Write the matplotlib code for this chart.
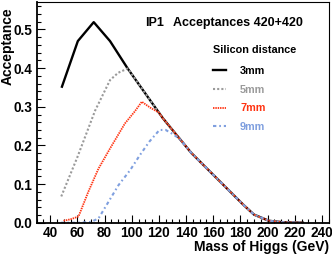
import matplotlib
matplotlib.use('Agg')
import matplotlib.pyplot as plt
from matplotlib.ticker import MultipleLocator, FormatStrFormatter

plt.rcParams['font.family'] = ['Liberation Sans', 'DejaVu Sans']
plt.rcParams['font.weight'] = 'bold'

# acceptance vs Higgs mass for the four silicon distances
mass_3mm = [48.6, 60.3, 72.0, 84.0, 97.0, 113.5, 123.0, 133.0, 144.0, 162.0,
            182.0, 190.0, 201.0, 212.0, 226.0]
acc_3mm = [0.352, 0.470, 0.519, 0.470, 0.399, 0.317, 0.270, 0.227, 0.180,
           0.117, 0.047, 0.021, 0.005, 0.001, 0.000]

mass_5mm = [48.1, 60.0, 73.0, 84.0, 90.0, 97.0, 113.5, 123.0, 133.0, 144.0,
            162.0, 182.0, 190.0, 201.0, 212.0, 226.0]
acc_5mm = [0.068, 0.170, 0.290, 0.369, 0.388, 0.399, 0.317, 0.270, 0.227,
           0.180, 0.117, 0.047, 0.021, 0.005, 0.001, 0.000]

mass_7mm = [49.8, 55.0, 60.8, 68.0, 75.5, 84.0, 95.0, 102.0, 107.4, 113.5,
            120.0, 123.0, 133.0, 144.0, 162.0, 182.0, 190.0, 201.0, 212.0,
            226.0]
acc_7mm = [0.005, 0.009, 0.016, 0.080, 0.140, 0.192, 0.257, 0.287, 0.313,
           0.298, 0.285, 0.270, 0.227, 0.180, 0.117, 0.047, 0.021, 0.005,
           0.001, 0.000]

mass_9mm = [48.0, 60.0, 70.0, 75.5, 90.2, 98.8, 106.0, 113.0, 120.4, 125.0,
            129.4, 135.0, 144.0, 162.0, 182.0, 190.0, 201.0, 212.0, 226.0]
acc_9mm = [0.000, 0.000, 0.002, 0.011, 0.097, 0.136, 0.175, 0.210, 0.240,
           0.240, 0.231, 0.218, 0.180, 0.117, 0.047, 0.021, 0.005, 0.001,
           0.000]

labels = ['3mm', '5mm', '7mm', '9mm']
colors = ['black', '#9a9a9a', '#ff3311', '#7f9fdf']
styles = ['-', (0, (1, 1.0)), (0, (0.8, 0.5)), (0, (1.6, 1.4, 0.8, 1.4))]
widths = [1.7, 1.5, 1.3, 1.5]

fig = plt.figure(figsize=(3.32, 2.56), dpi=100)
ax = fig.add_axes([0.1105, 0.130, 0.8795, 0.862])

series = [(mass_3mm, acc_3mm), (mass_5mm, acc_5mm),
          (mass_7mm, acc_7mm), (mass_9mm, acc_9mm)]
for (m, a), lab, c, ls, lw in zip(series, labels, colors, styles, widths):
    ax.plot(m, a, color=c, linestyle=ls, linewidth=lw, label=lab)

ax.set_xlim(30, 245)
ax.set_ylim(0, 0.571)
ax.xaxis.set_major_locator(MultipleLocator(20))
ax.xaxis.set_minor_locator(MultipleLocator(5))
ax.yaxis.set_major_locator(MultipleLocator(0.1))
ax.yaxis.set_minor_locator(MultipleLocator(0.02))
ax.yaxis.set_major_formatter(FormatStrFormatter('%.1f'))
ax.set_xticks(range(40, 241, 20))
ax.tick_params(which='both', direction='in', top=False, right=False,
               labelsize=9.8, width=0.8)
ax.tick_params(which='major', length=6)
ax.tick_params(which='minor', length=3)
ax.tick_params(axis='y', pad=3.4)
ax.tick_params(axis='x', pad=2.2)
for lab in ax.get_xticklabels() + ax.get_yticklabels():
    lab.set_fontweight('bold')
ax.spines['left'].set_linewidth(1.3)
ax.spines['bottom'].set_linewidth(1.3)
ax.spines['top'].set_linewidth(0.8)
ax.spines['right'].set_linewidth(0.8)

fig.text(7.5 / 332, 1 - 7 / 256, 'Acceptance', rotation=90, ha='center',
         va='top', fontsize=10, fontweight='bold')
fig.text(329.5 / 332, 5.3 / 256, 'Mass of Higgs (GeV)', ha='right',
         va='baseline', fontsize=10, fontweight='bold')
fig.text(145 / 332, 1 - 26 / 256, 'IP1', ha='left', va='baseline',
         fontsize=9, fontweight='bold')
fig.text(173 / 332, 1 - 26 / 256, 'Acceptances 420+420', ha='left',
         va='baseline', fontsize=9, fontweight='bold')

leg = ax.legend(loc='upper left', bbox_to_anchor=(212.7 / 332, 1 - 45 / 256),
                bbox_transform=fig.transFigure, frameon=False,
                title='Silicon distance', alignment='left',
                prop={'size': 7.8, 'weight': 'bold'},
                title_fontproperties={'size': 7.8, 'weight': 'bold'},
                handlelength=1.23, handletextpad=1.3, labelspacing=0.8,
                borderpad=0, borderaxespad=0)
leg._legend_box.sep = 8
for txt, c in zip(leg.get_texts(), colors):
    txt.set_color(c)

fig.savefig('out.png', dpi=100)
